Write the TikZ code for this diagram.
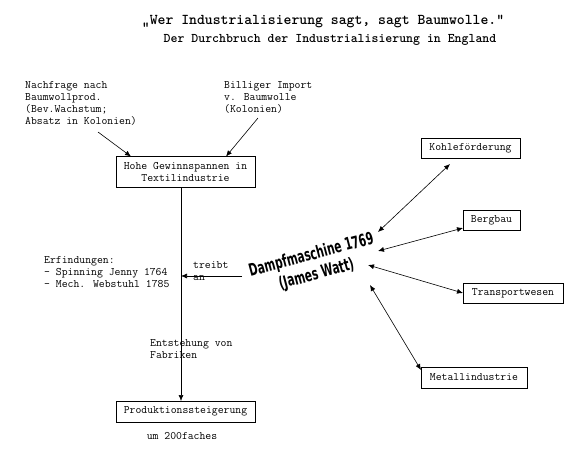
\documentclass[tikz,border=0pt]{standalone}
\usepackage{fontspec}
\newfontfamily\dmfont{DejaVu Sans}
\newfontfamily\ttbold{lmmonolt10-bold.otf}
\usetikzlibrary{arrows.meta}
\begin{document}
\begin{tikzpicture}[x=1pt,y=-1pt,
  txt/.style={font=\ttfamily\fontsize{11.4}{12}\selectfont, align=left, inner sep=0pt, anchor=north west},
  boxed/.style={draw, line width=0.7pt, font=\ttfamily\fontsize{11.4}{12}\selectfont, align=center, inner xsep=4pt, inner ysep=3pt},
  arr/.style={line width=0.6pt, -{Latex[length=6pt,width=5pt]}},
  darr/.style={line width=0.6pt, {Latex[length=6pt,width=5pt]}-{Latex[length=6pt,width=5pt]}}]
\useasboundingbox (0,0) rectangle (570,467);
\fill[white] (0,0) rectangle (570,467);
% titles
\node[font=\ttbold\fontsize{15}{16}\selectfont, inner sep=0pt] (title) at (323,22) {„Wer Industrialisierung sagt, sagt Baumwolle.“};
\node[font=\ttbold\fontsize{13.2}{14}\selectfont, inner sep=0pt] (sub) at (330,40) {Der Durchbruch der Industrialisierung in England};
% top texts
\node[txt] (nach) at (25,81) {Nachfrage nach\\Baumwollprod.\\(Bev.Wachstum;\\Absatz in Kolonien)};
\node[txt] (imp) at (224,81) {Billiger Import\\v. Baumwolle\\(Kolonien)};
\coordinate (nachE) at (98,132);
\coordinate (impE) at (258,118);
% boxes
\node[boxed, minimum width=139pt, minimum height=31pt] (hohe) at (185.5,171.5) {Hohe Gewinnspannen in\\Textilindustrie};
\node[boxed, minimum width=139pt, minimum height=21pt] (prod) at (185.5,411.5) {Produktionssteigerung};
\node[txt, anchor=center] (um) at (182,436) {um 200faches};
\draw[arr] (nachE) -- (131,156.5);
\draw[arr] (impE) -- (226,156.5);
\coordinate (vtop) at (181,187);
\coordinate (vbot) at (181,401);
\coordinate (vmid) at (181,276);
\draw[arr] (vtop) -- (vbot);
\node[txt] (entst) at (150,339) {Entstehung von\\Fabriken};
% treibt an
\coordinate (treib) at (242,276);
\draw[arr] (treib) -- (vmid);
\node[txt] (tr) at (193,261) {treibt\\an};
\node[txt] (erf) at (44,256) {Erfindungen:\\- Spinning Jenny 1764\\- Mech. Webstuhl 1785};
% Dampfmaschine
\node[rotate=15, align=center, inner sep=0pt, font=\dmfont\bfseries\fontsize{17}{20}\selectfont] (dm) at (314,265)
  {\scalebox{0.62}[1]{Dampfmaschine 1769}\\\scalebox{0.62}[1]{(James Watt)}};
% right boxes
\node[boxed, minimum width=99pt, minimum height=20pt] (kohle) at (470.5,148) {Kohleförderung};
\node[boxed, minimum width=57pt, minimum height=20pt] (berg) at (491.5,220) {Bergbau};
\node[boxed, minimum width=100pt, minimum height=20pt] (trans) at (513,293) {Transportwesen};
\node[boxed, minimum width=106pt, minimum height=21pt] (metall) at (474,377.5) {Metallindustrie};
\coordinate (dk) at (378,232);
\coordinate (db) at (378,251);
\coordinate (dt) at (368,265);
\coordinate (dmm) at (370,285);
\draw[darr] (dk) -- (450,164);
\draw[darr] (db) -- (463,228);
\draw[darr] (dt) -- (463,293);
\draw[darr] (dmm) -- (421,370);
\end{tikzpicture}
\end{document}
